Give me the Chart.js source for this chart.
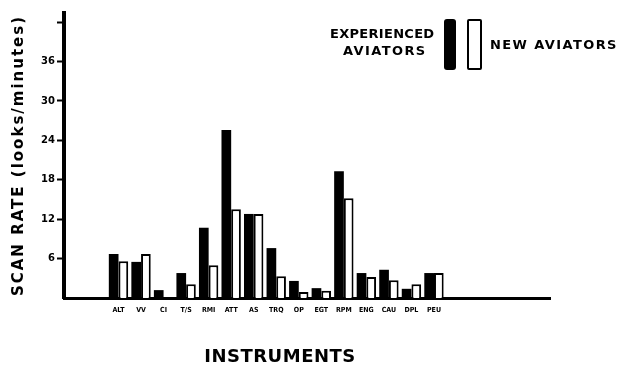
<!DOCTYPE html>
<html>
<head>
<meta charset="utf-8">
<script src="https://cdn.jsdelivr.net/npm/chart.js@4/dist/chart.umd.min.js"></script>
<style>
  html, body { margin: 0; padding: 0; background: #fff; }
  #wrap { position: relative; width: 620px; height: 370px; overflow: hidden; }
  canvas { position: absolute; left: 0; top: 0; }
  .lg { position: absolute; font-family: "DejaVu Sans", sans-serif; font-weight: bold; font-size: 13px; color: #000; white-space: nowrap; line-height: 1; }
  .sw { position: absolute; box-sizing: border-box; }
</style>
</head>
<body>
<div id="wrap">
  <canvas id="c" width="620" height="370"></canvas>
  <div class="lg" id="l1" style="left:330px; top:27px; letter-spacing:0.3px;">EXPERIENCED</div>
  <div class="lg" id="l2" style="left:343px; top:44px; letter-spacing:1.4px;">AVIATORS</div>
  <div class="sw" style="left:444px; top:19px; width:12px; height:51px; background:#000; border-radius:3px;"></div>
  <div class="sw" style="left:467px; top:19px; width:15px; height:51px; background:#fff; border:2px solid #000; border-radius:2px;"></div>
  <div class="lg" id="l3" style="left:490px; top:38px; letter-spacing:1.4px;">NEW AVIATORS</div>
</div>
<script>
// ---- data ----
const categories = ['ALT', 'VV', 'CI', 'T/S', 'RMI', 'ATT', 'AS', 'TRQ', 'OP', 'EGT', 'RPM', 'ENG', 'CAU', 'DPL', 'PEU'];
const experienced = [6.7, 5.5, 1.2, 3.8, 10.7, 25.6, 12.8, 7.6, 2.6, 1.5, 19.3, 3.8, 4.3, 1.4, 3.8];
const newAviators = [5.6, 6.7, 0, 2.1, 5.0, 13.5, 12.8, 3.3, 0.9, 1.1, 15.2, 3.2, 2.7, 2.1, 3.8];
const yTicks = [6, 12, 18, 24, 30, 36, 42];
const yTickLabels = ['6', '12', '18', '24', '30', '36', ''];
const seriesNames = ['EXPERIENCED AVIATORS', 'NEW AVIATORS'];
const yTitle = 'SCAN RATE (looks/minutes)';
const xTitle = 'INSTRUMENTS';

const FONT = '"DejaVu Sans", sans-serif';

const titlePlugin = {
  id: 'titleTweaks',
  beforeDraw(chart) {
    const ys = chart.scales.y, xs = chart.scales.x;
    if (ys && !ys._wrapped) {
      const orig = ys.drawTitle.bind(ys);
      ys.drawTitle = function () {
        const ctx = this.ctx;
        ctx.save();
        ctx.letterSpacing = '2px';
        orig();
        ctx.restore();
      };
      ys._wrapped = true;
    }
    if (xs && !xs._wrapped) {
      const orig = xs.drawTitle.bind(xs);
      xs.drawTitle = function () {
        const ctx = this.ctx;
        ctx.save();
        ctx.translate(-27, 0);
        ctx.letterSpacing = '0.5px';
        orig();
        ctx.restore();
      };
      xs._wrapped = true;
    }
  }
};

new Chart(document.getElementById('c'), {
  type: 'bar',
  data: {
    datasets: [
      {
        label: seriesNames[0],
        data: experienced.map((v, i) => ({ x: i, y: v })),
        backgroundColor: '#000',
        borderColor: '#000',
        borderWidth: 0
      },
      {
        label: seriesNames[1],
        data: newAviators.map((v, i) => ({ x: i, y: v })),
        backgroundColor: '#fff',
        borderColor: '#000',
        borderWidth: 2
      }
    ]
  },
  options: {
    responsive: false,
    animation: false,
    events: [],
    layout: { padding: { top: 13, right: 70, left: 0, bottom: 0 } },
    datasets: { bar: { categoryPercentage: 0.86, barPercentage: 1.0 } },
    plugins: { legend: { display: false }, tooltip: { enabled: false } },
    scales: {
      x: {
        type: 'linear',
        min: -1.7,
        max: 18.43,
        afterFit(scale) { scale.height = 72; },
        afterBuildTicks(scale) { scale.ticks = categories.map((c, i) => ({ value: i })); },
        ticks: {
          autoSkip: false,
          maxRotation: 0,
          padding: 8,
          color: '#000',
          font: { family: '"DejaVu Sans Condensed", "DejaVu Sans", sans-serif', weight: 'bold', size: 7 },
          callback: (v) => (categories[v] !== undefined ? categories[v] : '')
        },
        grid: { display: false, drawTicks: false },
        border: { display: true, color: '#000', width: 3 },
        title: {
          display: true,
          text: xTitle,
          color: '#000',
          font: { family: FONT, weight: 'bold', size: 18 },
          padding: { top: 0, bottom: 2 }
        }
      },
      y: {
        min: 0,
        max: 43.4,
        afterFit(scale) { scale.width = 64; },
        afterBuildTicks(scale) { scale.ticks = yTicks.map(v => ({ value: v })); },
        ticks: {
          padding: 2,
          color: '#000',
          font: { family: FONT, weight: 'bold', size: 10 },
          callback: (v) => { const k = yTicks.indexOf(v); return k >= 0 ? yTickLabels[k] : ''; }
        },
        grid: { display: true, drawOnChartArea: false, drawTicks: true, tickLength: 7, tickWidth: 2, color: '#000' },
        border: { display: true, color: '#000', width: 4 },
        title: {
          display: true,
          text: yTitle,
          color: '#000',
          font: { family: FONT, weight: 'bold', size: 15 },
          padding: { top: 10, bottom: 0 }
        }
      }
    }
  },
  plugins: [titlePlugin]
});
</script>
</body>
</html>
